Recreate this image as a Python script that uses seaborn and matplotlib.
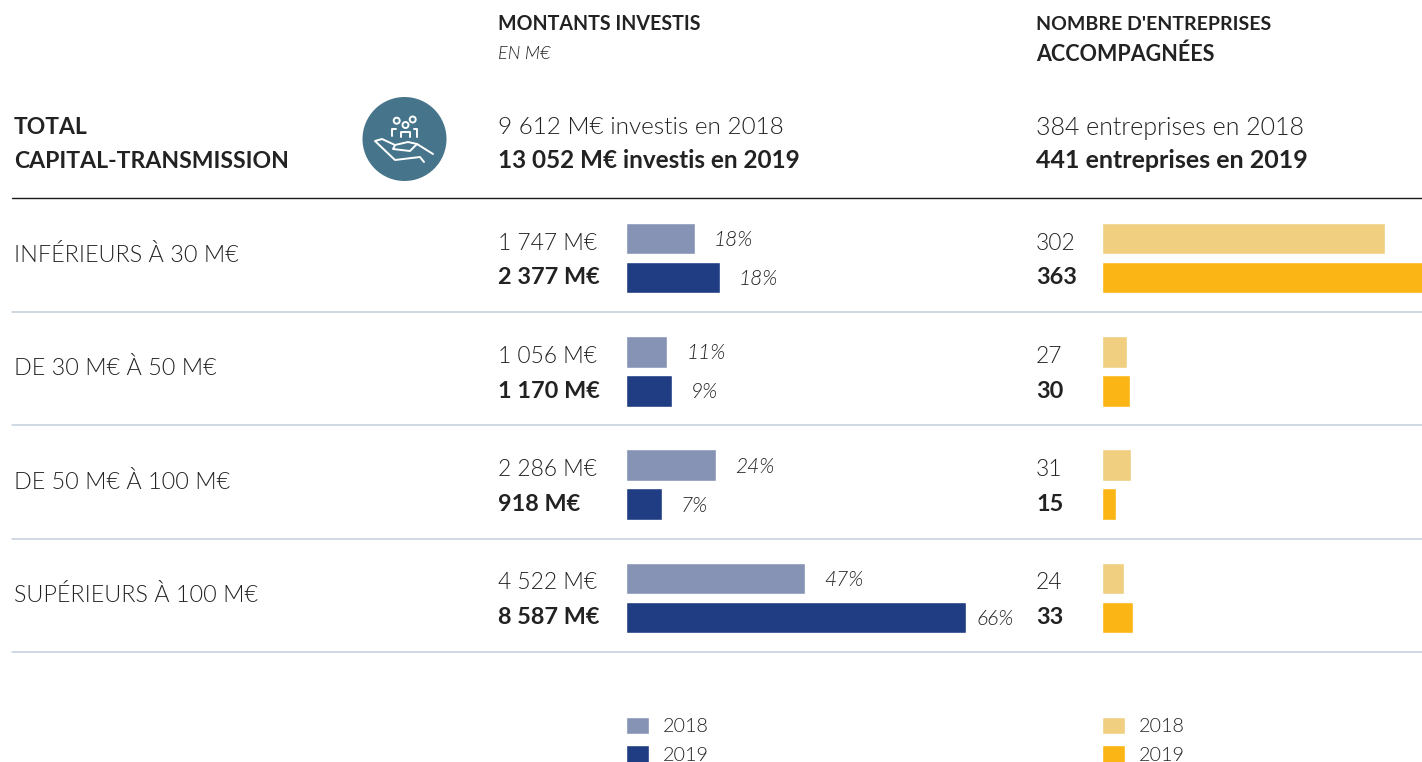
from matplotlib import pyplot as plt
from matplotlib.patches import Circle
import pandas as pd
import seaborn as sns

tranches = ['INFÉRIEURS À 30 M€', 'DE 30 M€ À 50 M€', 'DE 50 M€ À 100 M€', 'SUPÉRIEURS À 100 M€']
montants_2018 = [1747, 1056, 2286, 4522]
montants_2019 = [2377, 1170, 918, 8587]
parts_2018 = ['18%', '11%', '24%', '47%']
parts_2019 = ['18%', '9%', '7%', '66%']
entreprises_2018 = [302, 27, 31, 24]
entreprises_2019 = [363, 30, 15, 33]
annees = ['2018', '2019']

W, H = 1422, 762
TEXT = '#222222'
ROW_TOP = 198
ROW_BOTTOM = 652
ROW_PITCH = 113.3
ROW_FIRST = 258
PX = 0.72  # pixels to points at dpi 100


def fmt(value):
    return f'{value:,}'.replace(',', ' ')


def make_axes(fig, left, right):
    return fig.add_axes([left / W, 1 - ROW_BOTTOM / H, (right - left) / W, (ROW_BOTTOM - ROW_TOP) / H])


def bar_panel(ax, values_2018, values_2019, colors, xmax):
    df = pd.DataFrame({
        'tranche': tranches * 2,
        'valeur': values_2018 + values_2019,
        'annee': [annees[0]] * 4 + [annees[1]] * 4,
    })
    sns.barplot(data=df, y='tranche', x='valeur', hue='annee', palette=colors, saturation=1,
                width=0.688, gap=0.185, ax=ax)
    ax.set_xlim(0, xmax)
    ax.set_ylim((ROW_BOTTOM - ROW_FIRST) / ROW_PITCH, (ROW_TOP - ROW_FIRST) / ROW_PITCH)
    ax.set_axis_off()
    ax.patch.set_alpha(0)


def panel_legend(ax, x_px):
    sns.move_legend(
        ax, 'upper left', bbox_to_anchor=(x_px / W, 1 - 716.5 / H), bbox_transform=ax.figure.transFigure,
        frameon=False, title=None, borderpad=0, borderaxespad=0, handlelength=1.15, handleheight=1.0,
        handletextpad=0.72, labelspacing=0.52, prop={'family': 'Lato', 'weight': 300, 'size': 14.2},
        labelcolor=TEXT,
    )


sns.set_theme(style='white')
plt.rcParams['font.family'] = ['Lato', 'DejaVu Sans']

fig = plt.figure(figsize=(W / 100, H / 100), dpi=100)
bg = fig.add_axes([0, 0, 1, 1])
bg.set_xlim(0, W)
bg.set_ylim(H, 0)
bg.set_axis_off()


def put(x, y, s, size=16.4, bold=False, italic=False):
    bg.text(x, y + 2, s, fontsize=size, color=TEXT, va='center', ha='left',
            fontweight='bold' if bold else 300, fontstyle='italic' if italic else 'normal')


# separators
bg.plot([12, W], [198, 198], color='#1a1a1a', lw=1)
for i in range(4):
    sep = 312 + i * ROW_PITCH
    bg.plot([12, W], [sep, sep], color='#c3d0dc', lw=1.1)

# headers
put(498, 22, 'MONTANTS INVESTIS', 14.1, bold=True)
put(498, 52, 'EN M€', 13, italic=True)
put(1036, 22, "NOMBRE D'ENTREPRISES", 14.0, bold=True)
put(1036, 52, 'ACCOMPAGNÉES', 15.5, bold=True)
put(14, 126, 'TOTAL', 16.5, bold=True)
put(14, 159, 'CAPITAL-TRANSMISSION', 16.6, bold=True)
put(498, 126, '9 612 M€ investis en 2018', 17.5)
put(498, 159, '13 052 M€ investis en 2019', 17.5, bold=True)
put(1036, 126, '384 entreprises en 2018', 18)
put(1036, 159, '441 entreprises en 2019', 18, bold=True)

# icon
ICON = '#46758b'
bg.add_patch(Circle((404.5, 139), 42, color=ICON, lw=0))
for cx, cy in [(396.7, 120.7), (405.5, 125), (412.7, 119.5)]:
    bg.add_patch(Circle((cx, cy), 3, fc='none', ec='white', lw=1.4))
for xs, ys in [
    ([392, 392, 396], [136, 129, 129]),
    ([401, 401, 410, 410], [137, 132, 132, 137]),
    ([414, 417, 417], [129, 129, 137]),
    ([433, 417, 408, 395, 382, 375, 395, 420, 424], [154, 144, 142, 145, 139, 141, 160, 157, 162]),
    ([395, 393, 410, 417], [145, 149, 151, 144]),
]:
    bg.plot(xs, ys, color='white', lw=1.4, solid_capstyle='round', solid_joinstyle='round')

# rows
for i, tranche in enumerate(tranches):
    row = i * ROW_PITCH
    put(14, 253 + row, tranche, 16.8)
    put(498, 241 + row, f'{fmt(montants_2018[i])} M€')
    put(498, 276 + row, f'{fmt(montants_2019[i])} M€', 16.9, bold=True)
    put(1036, 241 + row, str(entreprises_2018[i]))
    put(1036, 276 + row, str(entreprises_2019[i]), 16.9, bold=True)

ax_left = make_axes(fig, 625.5, 1036)
bar_panel(ax_left, montants_2018, montants_2019, ['#8693b5', '#203c82'], 8587 * 410.5 / 340.5)
ax_right = make_axes(fig, 1102, W)
bar_panel(ax_right, entreprises_2018, entreprises_2019, ['#f0cf80', '#fbb514'], 320 / 0.937)

# share labels sit just past each bar
parts = parts_2018 + parts_2019
valeurs = montants_2018 + montants_2019
bars = [p for c in ax_left.containers for p in c]
for bar, value, part in zip(bars, valeurs, parts):
    pad = 10 if part == '66%' else 19
    ax_left.annotate(part, (value, bar.get_y() + bar.get_height() / 2), xytext=(pad * PX, -1.5 * PX),
                     textcoords='offset points', va='center', ha='left', fontsize=15, fontstyle='italic',
                     fontweight=300, color=TEXT)

panel_legend(ax_left, 626)
panel_legend(ax_right, 1102)

fig.savefig('out.png', dpi=100, facecolor='white')
